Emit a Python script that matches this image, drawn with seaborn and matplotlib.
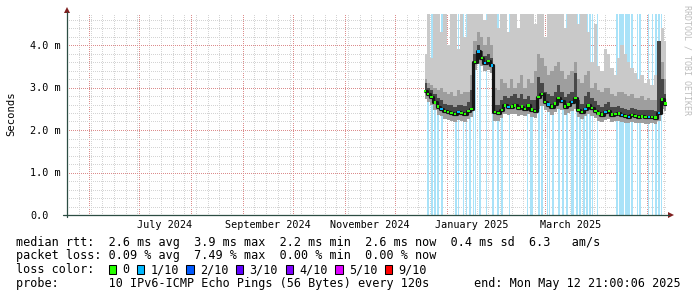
import matplotlib
matplotlib.use("Agg")
import matplotlib.pyplot as plt
import matplotlib.transforms as mtransforms
from matplotlib.lines import Line2D
from matplotlib.patches import Polygon, Rectangle
import numpy as np
import pandas as pd
import seaborn as sns

# ---------------- data ----------------
sample_start = "2024-12-19"
sample_step = "2D"

median_ms = [2.92, 2.85, 2.78, 2.65, 2.55, 2.50, 2.45, 2.42, 2.40, 2.38,
             2.42, 2.40, 2.38, 2.45, 2.50, 3.60, 3.85, 3.70, 3.58, 3.62,
             3.52, 2.42, 2.40, 2.47, 2.58, 2.54, 2.55, 2.58, 2.52, 2.55,
             2.50, 2.58, 2.48, 2.45, 2.78, 2.85, 2.66, 2.60, 2.55, 2.62,
             2.75, 2.68, 2.55, 2.60, 2.66, 2.75, 2.47, 2.42, 2.50, 2.58,
             2.52, 2.45, 2.39, 2.36, 2.42, 2.45, 2.36, 2.38, 2.39, 2.35,
             2.33, 2.31, 2.35, 2.33, 2.31, 2.32, 2.30, 2.30, 2.31, 2.29,
             2.40, 2.72, 2.62]

smoke_min_ms = [2.72, 2.66, 2.60, 2.46, 2.36, 2.32, 2.27, 2.24, 2.22, 2.20,
                2.24, 2.22, 2.20, 2.27, 2.30, 3.42, 3.55, 3.50, 3.40, 3.42,
                3.35, 2.22, 2.22, 2.28, 2.38, 2.36, 2.37, 2.38, 2.34, 2.36,
                2.32, 2.38, 2.30, 2.28, 2.50, 2.56, 2.46, 2.42, 2.36, 2.42,
                2.50, 2.46, 2.36, 2.40, 2.45, 2.50, 2.30, 2.25, 2.32, 2.38,
                2.34, 2.28, 2.22, 2.20, 2.24, 2.27, 2.20, 2.21, 2.22, 2.19,
                2.17, 2.16, 2.19, 2.17, 2.16, 2.17, 2.15, 2.15, 2.16, 2.14,
                2.22, 2.50, 2.44]

smoke_dark_ms = [3.10, 3.00, 2.95, 2.85, 2.75, 2.70, 2.62, 2.60, 2.58, 2.55,
                 2.60, 2.58, 2.56, 2.65, 2.95, 3.80, 4.00, 3.85, 3.75, 3.80,
                 3.70, 2.60, 2.58, 2.70, 2.80, 2.75, 2.80, 2.85, 2.75, 2.85,
                 2.72, 2.80, 2.70, 2.70, 3.25, 3.10, 2.90, 2.85, 2.80, 2.90,
                 3.05, 2.90, 2.78, 2.85, 2.90, 3.35, 2.70, 2.62, 2.80, 2.90,
                 2.75, 2.68, 2.58, 2.55, 2.62, 2.65, 2.55, 2.55, 2.56, 2.52,
                 2.50, 2.48, 2.52, 2.50, 2.47, 2.48, 2.46, 2.46, 2.47, 2.45,
                 4.10, 3.20, 2.85]

smoke_mid_ms = [3.20, 3.10, 3.05, 3.00, 2.95, 3.00, 2.90, 2.85, 2.90, 2.80,
                2.95, 2.85, 2.90, 2.90, 3.30, 4.10, 4.30, 4.20, 4.00, 4.20,
                4.00, 3.00, 2.95, 3.20, 3.10, 3.00, 3.20, 3.00, 3.10, 3.30,
                3.00, 3.20, 3.10, 3.40, 3.80, 3.70, 3.50, 3.30, 3.40, 3.50,
                3.60, 3.40, 3.20, 3.30, 3.40, 3.60, 3.20, 3.10, 3.30, 3.40,
                3.00, 3.10, 2.95, 2.90, 3.00, 3.00, 2.85, 2.80, 2.90, 2.90,
                2.85, 2.80, 2.85, 2.75, 2.75, 2.80, 2.70, 2.75, 2.70, 2.70,
                2.75, 3.60, 3.20]

smoke_max_ms = [3.80, 4.80, 3.70, 4.80, 4.80, 4.30, 4.80, 4.00, 4.80, 4.80,
                3.90, 4.80, 4.20, 4.80, 4.80, 4.80, 4.80, 4.80, 4.60, 4.80,
                4.80, 4.80, 4.40, 4.80, 4.80, 4.30, 4.80, 4.80, 4.40, 4.80,
                4.80, 4.80, 4.80, 4.50, 4.80, 4.80, 4.20, 4.80, 4.80, 4.80,
                4.80, 4.80, 4.40, 4.80, 4.80, 4.80, 4.50, 4.80, 4.80, 4.30,
                3.60, 4.50, 3.50, 3.40, 3.90, 3.80, 3.45, 3.30, 3.70, 4.00,
                3.80, 3.60, 3.45, 3.35, 3.20, 3.30, 3.10, 3.20, 3.05, 3.30,
                3.10, 4.40, 4.10]

loss_tenths = [0, 0, 0, 0, 0, 1, 0, 0, 0, 0,
               1, 0, 0, 0, 0, 0, 1, 0, 1, 0,
               1, 0, 0, 0, 0, 1, 0, 0, 0, 0,
               0, 0, 0, 0, 0, 0, 0, 1, 0, 0,
               0, 1, 0, 0, 1, 0, 0, 0, 1, 0,
               0, 0, 0, 0, 1, 0, 0, 0, 0, 1,
               0, 1, 0, 0, 0, 0, 0, 1, 0, 0,
               1, 0, 0]

loss_bg_dates = ["2024-12-20 19:00", "2024-12-23 05:00", "2024-12-25 00:00",
                 "2024-12-26 19:00", "2024-12-29 05:00", "2025-01-06 14:00",
                 "2025-01-08 07:00", "2025-01-11 07:00", "2025-01-13 02:00",
                 "2025-01-14 22:00", "2025-01-17 07:00", "2025-01-18 12:00",
                 "2025-01-20 22:00", "2025-01-25 02:00", "2025-01-28 17:00",
                 "2025-01-31 17:00", "2025-02-03 02:00", "2025-02-07 14:00",
                 "2025-02-18 14:00", "2025-02-20 10:00", "2025-02-21 14:00",
                 "2025-02-25 05:00", "2025-02-27 00:00", "2025-03-02 14:00",
                 "2025-03-03 10:00", "2025-03-05 14:00", "2025-03-09 05:00",
                 "2025-03-11 14:00", "2025-03-14 00:00", "2025-03-17 00:00",
                 "2025-03-17 18:00", "2025-03-20 00:00", "2025-03-21 19:00",
                 "2025-03-24 05:00", "2025-03-26 00:00", "2025-03-27 19:00",
                 "2025-03-29 12:00", "2025-04-01 12:00", "2025-04-12 22:00",
                 "2025-04-14 17:00", "2025-04-15 16:00", "2025-04-16 12:00",
                 "2025-04-18 07:00", "2025-04-19 06:00", "2025-04-20 05:00",
                 "2025-04-22 00:00", "2025-04-25 00:00", "2025-04-26 19:00",
                 "2025-05-01 14:00", "2025-05-04 00:00", "2025-05-05 19:00",
                 "2025-05-06 19:00", "2025-05-07 14:00", "2025-05-08 12:00",
                 "2025-05-09 10:00"]

x_start, x_end = "2024-05-18 20:00", "2025-05-12 21:00"
y_tick_values = [0, 1, 2, 3, 4]
y_tick_labels = ["0.0", "1.0 m", "2.0 m", "3.0 m", "4.0 m"]
month_label_dates = ["2024-07-16", "2024-09-16", "2024-11-16", "2025-01-16", "2025-03-16"]
month_labels = ["July 2024", "September 2024", "November 2024", "January 2025", "March 2025"]

loss_names = ["0", "1/10", "2/10", "3/10", "4/10", "5/10", "9/10"]
loss_colors = ["#26ff00", "#00b8ff", "#0059ff", "#5e00ff", "#7e00ff", "#dd00ff", "#ff0000"]

stat_lines = [
    "median rtt:  2.6 ms avg  3.9 ms max  2.2 ms min  2.6 ms now  0.4 ms sd  6.3   am/s",
    "packet loss: 0.09 % avg  7.49 % max  0.00 % min  0.00 % now",
    "loss color:",
    "probe:       10 IPv6-ICMP Echo Pings (56 Bytes) every 120s",
]
end_text = "end: Mon May 12 21:00:06 2025"
watermark = "RRDTOOL / TOBI OETIKER"

# ---------------- figure ----------------
sns.set_theme(style="white")
plt.rcParams["font.family"] = ["DejaVu Sans Mono", "DejaVu Sans"]

W, H = 697, 297
L, R, T, B = 67, 667, 14, 215
PX_PER_MS = 42.5

fig = plt.figure(figsize=(W / 100, H / 100), dpi=100, facecolor="white")
ax = fig.add_axes([L / W, 1 - B / H, (R - L) / W, (B - T) / H])
ax.set_facecolor("white")
pix = mtransforms.Affine2D().scale(1 / W, -1 / H).translate(0, 1) + fig.transFigure

df = pd.DataFrame({
    "t": pd.date_range(sample_start, periods=len(median_ms), freq=sample_step),
    "median": median_ms, "smin": smoke_min_ms, "sdark": smoke_dark_ms,
    "smid": smoke_mid_ms, "smax": smoke_max_ms,
    "loss": [loss_names[v] for v in loss_tenths],
})

ymax = (B - T) / PX_PER_MS
ax.set_xlim(pd.Timestamp(x_start), pd.Timestamp(x_end))
ax.set_ylim(0, ymax)

# grid
month_starts = pd.date_range("2024-06-01", "2025-05-01", freq="MS")
sundays = pd.date_range("2024-05-19", "2025-05-12", freq="W-SUN")
ax.set_xticks(month_starts)
ax.set_xticks(sundays, minor=True)
ax.set_yticks(y_tick_values)
ax.set_yticks([v / 5 for v in range(1, 24) if v % 5 != 0], minor=True)
ax.tick_params(which="both", length=0, labelbottom=False, labelleft=False)
ax.grid(which="minor", color="#d4d4d4", lw=0.72, linestyle=(0, (1, 1.6)), antialiased=False)
ax.grid(which="major", color="#dc8c8c", lw=0.72, linestyle=(0, (1, 1.6)), antialiased=False)
ax.set_axisbelow(True)
for s in ax.spines.values():
    s.set_visible(False)

# loss background bars
for d in loss_bg_dates:
    t0 = pd.Timestamp(d)
    ax.axvspan(t0 - pd.Timedelta(hours=9), t0 + pd.Timedelta(hours=9),
               color="#a9e2f8", lw=0, zorder=1)

# smoke
tt = df["t"]
ax.fill_between(tt, df["smin"], df["smax"], step="mid", color="#c9c9c9", lw=0, zorder=2)
ax.fill_between(tt, df["smin"], df["smid"], step="mid", color="#9e9e9e", lw=0, zorder=3)
ax.fill_between(tt, df["median"], df["sdark"], step="mid", color="#484848", lw=0, zorder=4)

# median
sns.lineplot(data=df, x="t", y="median", ax=ax, color="#151515", lw=2.3,
             drawstyle="steps-mid", zorder=5, legend=False)
sns.scatterplot(data=df, x="t", y="median", hue="loss", ax=ax, marker="s", s=3,
                linewidth=0, palette=dict(zip(loss_names, loss_colors)),
                zorder=6, legend=False)
ax.set_xlabel("")
ax.set_ylabel("")

# axes lines with arrows
axis_col = "#2c4d43"
arrow_col = "#7f1f1f"
fig.add_artist(Line2D([L, L], [B + 2, 12], transform=pix, color=axis_col, lw=0.9))
fig.add_artist(Line2D([L - 4, R + 2], [B, B], transform=pix, color=axis_col, lw=0.9))
fig.add_artist(Polygon([[L - 3, 13], [L + 3, 13], [L, 7]], closed=True, transform=pix,
                       color=arrow_col, lw=0))
fig.add_artist(Polygon([[R + 1, B - 3], [R + 1, B + 3], [R + 7, B]], closed=True,
                       transform=pix, color=arrow_col, lw=0))

# y tick labels
ylab_tr = mtransforms.blended_transform_factory(fig.transFigure, ax.transData) + \
    mtransforms.ScaledTranslation(0, -3.6 / 100, fig.dpi_scale_trans)
for v, lab in zip(y_tick_values, y_tick_labels):
    fig.text(30 / W, v, lab, transform=ylab_tr, ha="left", va="baseline",
             fontsize=7.3, color="black")

# x month labels
xlab_tr = mtransforms.blended_transform_factory(ax.transData, ax.transAxes) + \
    mtransforms.ScaledTranslation(0, -13 / 100, fig.dpi_scale_trans)
for d, lab in zip(month_label_dates, month_labels):
    ax.text(pd.Timestamp(d), 0, lab, transform=xlab_tr, ha="center", va="baseline",
            fontsize=7.3, color="black")

fig.text(11 / W, 1 - 114 / H, "Seconds", rotation=90, ha="center", va="center",
         fontsize=7.6, color="black")
fig.text(687 / W, 1 - 5 / H, watermark, rotation=270, ha="center", va="top",
         fontsize=6.0, color="#bdbdbd")

# stats text
CW = 7.08
baselines = [245.7, 259.2, 273.2, 286.8]
for line, yb in zip(stat_lines, baselines):
    fig.text(16 / W, 1 - yb / H, line, ha="left", va="baseline", fontsize=8.5, color="black")
fig.text(681 / W, 1 - baselines[3] / H, end_text, ha="right", va="baseline",
         fontsize=8.5, color="black")

col = 13
for name, c in zip(loss_names, loss_colors):
    bx = 16 + col * CW
    fig.add_artist(Rectangle((bx + 0.5, 264.5), 7.5, 9, transform=pix, facecolor=c,
                             edgecolor="black", lw=0.75))
    fig.text((16 + (col + 2) * CW) / W, 1 - baselines[2] / H, name, ha="left",
             va="baseline", fontsize=8.5, color="black")
    col += 3 + len(name)

fig.savefig("out.png", dpi=100, facecolor="white")
